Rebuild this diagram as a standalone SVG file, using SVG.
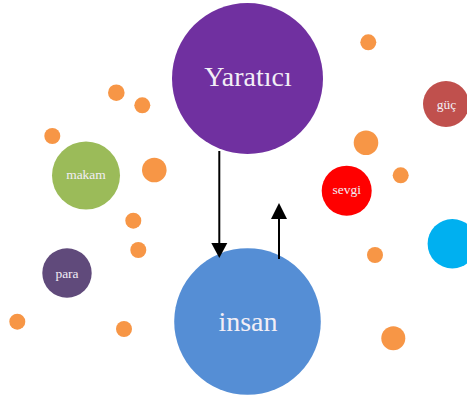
<svg xmlns="http://www.w3.org/2000/svg" width="467" height="401" viewBox="0 0 467 401">
<defs>
<style>
.lbl{font-family:"Liberation Serif","DejaVu Serif",serif;fill:#f2eef6;text-anchor:middle}
.dot{fill:#f79646}
.conn{stroke:#000;stroke-width:2;fill:none}
</style>
<marker id="ah" viewBox="0 0 10 10" refX="10" refY="5" markerWidth="8" markerHeight="8" markerUnits="userSpaceOnUse" orient="auto">
<path d="M0,0 L10,5 L0,10 Z" fill="#000"/>
</marker>
</defs>
<rect width="467" height="401" fill="#fff"/>
<g id="dots">
<circle class="dot" cx="368.3" cy="42.3" r="8"/>
<circle class="dot" cx="116.3" cy="92.7" r="8.3"/>
<circle class="dot" cx="142.3" cy="105.3" r="8"/>
<circle class="dot" cx="52.3" cy="136" r="8"/>
<circle class="dot" cx="154.3" cy="170" r="12.3"/>
<circle class="dot" cx="366" cy="142.7" r="12.3"/>
<circle class="dot" cx="400.7" cy="175.3" r="8"/>
<circle class="dot" cx="133.3" cy="220.7" r="8"/>
<circle class="dot" cx="138.3" cy="250" r="8"/>
<circle class="dot" cx="375" cy="255" r="8"/>
<circle class="dot" cx="17.3" cy="321.7" r="8"/>
<circle class="dot" cx="124" cy="329" r="8"/>
<circle class="dot" cx="393.3" cy="338.3" r="12"/>
</g>
<g id="yaratici">
<circle cx="247.5" cy="78.5" r="75.5" fill="#7030a0"/>
<text class="lbl" x="248" y="86" font-size="28">Yaratıcı</text>
</g>
<g id="insan">
<circle cx="247.5" cy="321.5" r="73.3" fill="#558ed5"/>
<text class="lbl" x="248" y="331" font-size="28">insan</text>
</g>
<g id="makam">
<circle cx="86" cy="175.5" r="34" fill="#9bbb59"/>
<text class="lbl" x="86" y="179" font-size="13.5">makam</text>
</g>
<g id="para">
<circle cx="67" cy="273" r="24.7" fill="#604a7b"/>
<text class="lbl" x="67" y="278" font-size="13.5">para</text>
</g>
<g id="guc">
<circle cx="446" cy="104" r="23" fill="#c0504d"/>
<text class="lbl" x="446.5" y="109" font-size="13.5">güç</text>
</g>
<g id="sevgi">
<circle cx="346.7" cy="190.7" r="25" fill="#ff0000"/>
<text class="lbl" x="346.7" y="194" font-size="13.5">sevgi</text>
</g>
<g id="cyan">
<circle cx="452.3" cy="243.7" r="24.7" fill="#00b0f0"/>
</g>
<g id="connectors">
<line class="conn" x1="219.3" y1="151" x2="219.3" y2="244"/>
<path d="M211.3,243 L227.3,243 L219.3,258 Z" fill="#000"/>
<line class="conn" x1="279" y1="259" x2="279" y2="218"/>
<path d="M271,219 L287,219 L279,203 Z" fill="#000"/>
</g>
</svg>
